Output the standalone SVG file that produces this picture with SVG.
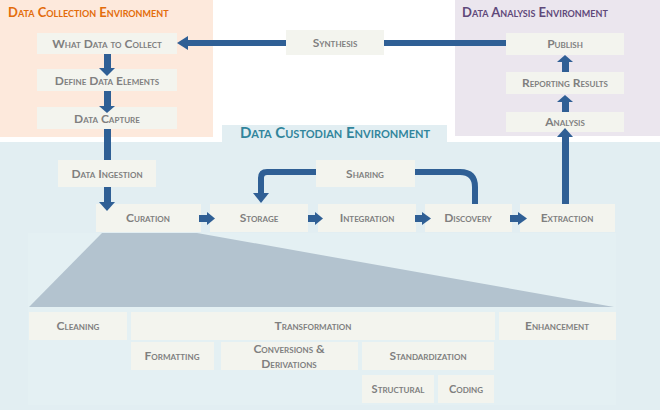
<svg xmlns="http://www.w3.org/2000/svg" width="660" height="410" viewBox="0 0 660 410">
<style>
.box{fill:#f3f4ee}
.t{font-family:Lato,"Liberation Sans",sans-serif;font-weight:bold;font-variant:small-caps;font-size:12px;fill:#7f7f7f;text-anchor:middle}
.s{font-size:11px}
.arr{fill:#2f5f95}
.ln{fill:none;stroke:#2f5f95;stroke-width:6}
.h{font-family:Lato,"Liberation Sans",sans-serif;font-weight:bold;font-variant:small-caps}
</style>
<rect width="660" height="410" fill="#ffffff"/>
<g id="env-collection">
<rect x="0" y="0" width="213" height="137" fill="#fde9dc"/>
<text class="h" x="8" y="17" font-size="13" fill="#e36c0a">Data Collection Environment</text>
</g>
<g id="env-analysis">
<rect x="455" y="0" width="205" height="136" fill="#ebe6ee"/>
<text class="h" x="462" y="17" font-size="13" fill="#5f497a">Data Analysis Environment</text>
</g>
<g id="env-custodian">
<rect x="0" y="142" width="660" height="268" fill="#e2eef2"/>
<rect x="222" y="125" width="225" height="18" fill="#e2eef2"/>
<text class="h" x="335" y="138" font-size="15" fill="#31859c" text-anchor="middle">Data Custodian Environment</text>
<rect x="28" y="233" width="588" height="172" fill="#e4f0f3"/>
<polygon points="102,233 197,233 614,307 29,307" fill="#b3c3cf"/>
</g>
<g id="what-data"><rect class="box" x="37" y="33" width="140" height="21"/><text class="t" x="107" y="48">What Data to Collect</text></g>
<g id="define"><rect class="box" x="37" y="69" width="140" height="22"/><text class="t" x="107" y="85">Define Data Elements</text></g>
<g id="capture"><rect class="box" x="37" y="107" width="140" height="22"/><text class="t" x="107" y="123">Data Capture</text></g>
<g id="synthesis"><rect class="box" x="286" y="30" width="98" height="25"/><text class="t" x="335" y="47">Synthesis</text></g>
<g id="publish"><rect class="box" x="506" y="33" width="118" height="22"/><text class="t" x="565" y="48">Publish</text></g>
<g id="reporting"><rect class="box" x="506" y="72" width="118" height="22"/><text class="t" x="565" y="87">Reporting Results</text></g>
<g id="analysis"><rect class="box" x="506" y="112" width="118" height="20"/><text class="t" x="565" y="126">Analysis</text></g>
<g id="ingestion"><rect class="box" x="58" y="160" width="98" height="27"/><text class="t" x="107" y="178">Data Ingestion</text></g>
<g id="sharing"><rect class="box" x="316" y="160" width="99" height="27"/><text class="t" x="365" y="178">Sharing</text></g>
<g id="curation"><rect class="box" x="96" y="204" width="105" height="28"/><text class="t" x="148" y="222">Curation</text></g>
<g id="storage"><rect class="box" x="210" y="204" width="98" height="28"/><text class="t" x="259" y="222">Storage</text></g>
<g id="integration"><rect class="box" x="318" y="204" width="98" height="28"/><text class="t" x="367" y="222">Integration</text></g>
<g id="discovery"><rect class="box" x="425" y="204" width="87" height="28"/><text class="t" x="468" y="222">Discovery</text></g>
<g id="extraction"><rect class="box" x="520" y="204" width="95" height="28"/><text class="t" x="567" y="222">Extraction</text></g>
<g id="cleaning"><rect class="box" x="29" y="312" width="98" height="28"/><text class="t" x="78" y="330">Cleaning</text></g>
<g id="transformation"><rect class="box" x="131" y="312" width="364" height="28"/><text class="t" x="313" y="330">Transformation</text></g>
<g id="enhancement"><rect class="box" x="499" y="312" width="117" height="28"/><text class="t" x="557" y="330">Enhancement</text></g>
<g id="formatting"><rect class="box" x="131" y="342" width="83" height="28"/><text class="t" x="172" y="360">Formatting</text></g>
<g id="conversions"><rect class="box" x="221" y="342" width="137" height="28"/><text class="t" x="289" y="353">Conversions &amp;</text><text class="t" x="289" y="368">Derivations</text></g>
<g id="standardization"><rect class="box" x="362" y="342" width="132" height="28"/><text class="t" x="428" y="360">Standardization</text></g>
<g id="structural"><rect class="box" x="362" y="375" width="72" height="28"/><text class="t s" x="398" y="393">Structural</text></g>
<g id="coding"><rect class="box" x="438" y="375" width="56" height="28"/><text class="t s" x="466" y="393">Coding</text></g>
<g id="connectors">
<rect class="arr" x="104" y="54" width="7" height="15"/>
<polygon class="arr" points="99,68 115,68 107,76"/>
<rect class="arr" x="104" y="91" width="7" height="16"/>
<polygon class="arr" points="99,106 115,106 107,113"/>
<rect class="arr" x="104" y="129" width="7" height="31"/>
<rect class="arr" x="104" y="187" width="7" height="16"/>
<polygon class="arr" points="99,202 115,202 107,211"/>
<rect class="arr" x="199" y="215" width="9" height="7"/>
<polygon class="arr" points="207,212 207,225 215,218.5"/>
<rect class="arr" x="308" y="215" width="8" height="7"/>
<polygon class="arr" points="315,212 315,225 323,218.5"/>
<rect class="arr" x="415" y="215" width="8" height="7"/>
<polygon class="arr" points="422,212 422,225 431,218.5"/>
<rect class="arr" x="510" y="215" width="9" height="7"/>
<polygon class="arr" points="518,212 518,225 527,218.5"/>
<path class="ln" d="M415,172 H460 Q475,172 475,187 V204"/>
<path class="ln" d="M316,172 H267 Q261,172 261,178 V194"/>
<polygon class="arr" points="253,193 269,193 261,203"/>
<rect class="arr" x="562" y="135" width="7" height="69"/>
<polygon class="arr" points="557,137 573,137 565,128"/>
<rect class="arr" x="562" y="60" width="7" height="12"/>
<polygon class="arr" points="557,62 573,62 565,55"/>
<rect class="arr" x="562" y="100" width="7" height="12"/>
<polygon class="arr" points="557,102 573,102 565,95"/>
<rect class="arr" x="384" y="40" width="122" height="6"/>
<rect class="arr" x="186" y="40" width="100" height="6"/>
<polygon class="arr" points="188,36 188,50 177,43"/>
</g>
</svg>
